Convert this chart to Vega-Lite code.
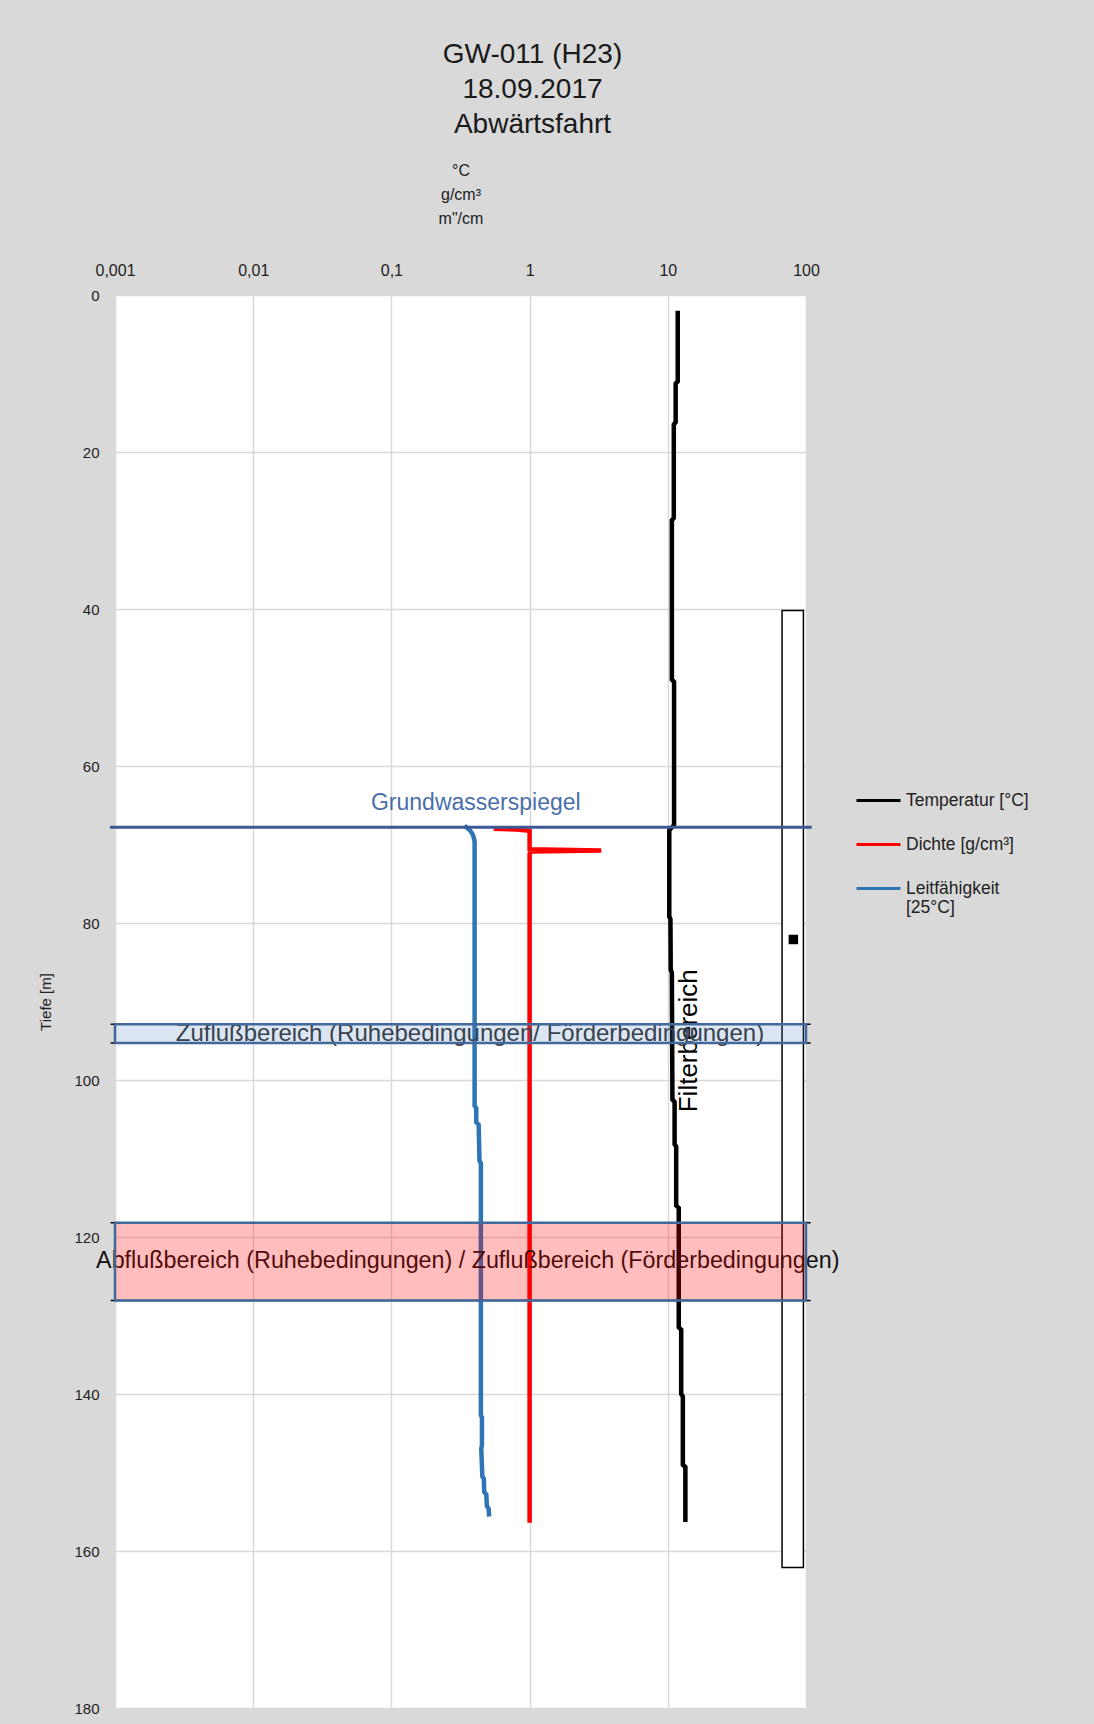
{
  "$schema": "https://vega.github.io/schema/vega-lite/v6.json",
  "width": 691,
  "height": 1413,
  "autosize": {"type": "none"},
  "padding": {"left": 115, "top": 295, "right": 288, "bottom": 16},
  "background": "#d9d9d9",
  "config": {
    "font": "Liberation Sans",
    "view": {"fill": "white", "stroke": null}
  },
  "title": {
    "text": ["GW-011 (H23)", "18.09.2017", "Abwärtsfahrt"],
    "fontSize": 28,
    "fontWeight": "normal",
    "color": "#1a1a1a",
    "anchor": "middle",
    "dx": 72,
    "offset": 23,
    "lineHeight": 35
  },
  "datasets": {
    "profiles": [
      {"series": "Temperatur [°C]", "depth": 2.0, "value": 11.8},
      {"series": "Temperatur [°C]", "depth": 11.0, "value": 11.8},
      {"series": "Temperatur [°C]", "depth": 11.3, "value": 11.4},
      {"series": "Temperatur [°C]", "depth": 16.2, "value": 11.4},
      {"series": "Temperatur [°C]", "depth": 16.5, "value": 11.05},
      {"series": "Temperatur [°C]", "depth": 28.4, "value": 11.05},
      {"series": "Temperatur [°C]", "depth": 28.7, "value": 10.7},
      {"series": "Temperatur [°C]", "depth": 49.0, "value": 10.7},
      {"series": "Temperatur [°C]", "depth": 49.3, "value": 11.1},
      {"series": "Temperatur [°C]", "depth": 67.5, "value": 11.1},
      {"series": "Temperatur [°C]", "depth": 68.2, "value": 10.25},
      {"series": "Temperatur [°C]", "depth": 79.2, "value": 10.25},
      {"series": "Temperatur [°C]", "depth": 79.5, "value": 10.45},
      {"series": "Temperatur [°C]", "depth": 86.0, "value": 10.5},
      {"series": "Temperatur [°C]", "depth": 86.3, "value": 10.7},
      {"series": "Temperatur [°C]", "depth": 102.5, "value": 10.8},
      {"series": "Temperatur [°C]", "depth": 102.8, "value": 11.2},
      {"series": "Temperatur [°C]", "depth": 108.2, "value": 11.2},
      {"series": "Temperatur [°C]", "depth": 108.5, "value": 11.5},
      {"series": "Temperatur [°C]", "depth": 116.0, "value": 11.5},
      {"series": "Temperatur [°C]", "depth": 116.3, "value": 12.0},
      {"series": "Temperatur [°C]", "depth": 131.5, "value": 12.0},
      {"series": "Temperatur [°C]", "depth": 131.8, "value": 12.5},
      {"series": "Temperatur [°C]", "depth": 140.0, "value": 12.5},
      {"series": "Temperatur [°C]", "depth": 140.3, "value": 12.85},
      {"series": "Temperatur [°C]", "depth": 149.0, "value": 12.85},
      {"series": "Temperatur [°C]", "depth": 149.3, "value": 13.4},
      {"series": "Temperatur [°C]", "depth": 156.3, "value": 13.4},
      {"series": "Dichte [g/cm³]", "depth": 68.0, "value": 0.55},
      {"series": "Dichte [g/cm³]", "depth": 68.1, "value": 0.8},
      {"series": "Dichte [g/cm³]", "depth": 68.25, "value": 1.0},
      {"series": "Dichte [g/cm³]", "depth": 70.6, "value": 1.0},
      {"series": "Dichte [g/cm³]", "depth": 70.75, "value": 3.3},
      {"series": "Dichte [g/cm³]", "depth": 70.9, "value": 1.02},
      {"series": "Dichte [g/cm³]", "depth": 71.2, "value": 1.0},
      {"series": "Dichte [g/cm³]", "depth": 156.4, "value": 1.0},
      {"series": "Leitfähigkeit [25°C]", "depth": 67.6, "value": 0.338},
      {"series": "Leitfähigkeit [25°C]", "depth": 68.2, "value": 0.37},
      {"series": "Leitfähigkeit [25°C]", "depth": 68.8, "value": 0.39},
      {"series": "Leitfähigkeit [25°C]", "depth": 69.6, "value": 0.4},
      {"series": "Leitfähigkeit [25°C]", "depth": 103.3, "value": 0.4},
      {"series": "Leitfähigkeit [25°C]", "depth": 103.6, "value": 0.411},
      {"series": "Leitfähigkeit [25°C]", "depth": 105.4, "value": 0.411},
      {"series": "Leitfähigkeit [25°C]", "depth": 105.7, "value": 0.428},
      {"series": "Leitfähigkeit [25°C]", "depth": 110.3, "value": 0.434},
      {"series": "Leitfähigkeit [25°C]", "depth": 110.6, "value": 0.444},
      {"series": "Leitfähigkeit [25°C]", "depth": 142.7, "value": 0.444},
      {"series": "Leitfähigkeit [25°C]", "depth": 143.0, "value": 0.452},
      {"series": "Leitfähigkeit [25°C]", "depth": 146.5, "value": 0.452},
      {"series": "Leitfähigkeit [25°C]", "depth": 147.0, "value": 0.447},
      {"series": "Leitfähigkeit [25°C]", "depth": 150.5, "value": 0.455},
      {"series": "Leitfähigkeit [25°C]", "depth": 150.8, "value": 0.466},
      {"series": "Leitfähigkeit [25°C]", "depth": 152.5, "value": 0.47},
      {"series": "Leitfähigkeit [25°C]", "depth": 152.8, "value": 0.486},
      {"series": "Leitfähigkeit [25°C]", "depth": 154.3, "value": 0.491},
      {"series": "Leitfähigkeit [25°C]", "depth": 154.6, "value": 0.505},
      {"series": "Leitfähigkeit [25°C]", "depth": 155.6, "value": 0.51}
    ],
    "bands": [
      {"kind": "Zufluss", "value": 0.001, "value2": 100, "depth": 92.9, "depth2": 95.3},
      {"kind": "Abfluss", "value": 0.001, "value2": 100, "depth": 118.2, "depth2": 128.1}
    ],
    "edges": [
      {"depth": 92.9, "value": 0.00093, "value2": 108},
      {"depth": 95.3, "value": 0.00093, "value2": 108},
      {"depth": 118.2, "value": 0.00093, "value2": 108},
      {"depth": 128.1, "value": 0.00093, "value2": 108}
    ],
    "water": [
      {"depth": 67.8, "value": 0.00092, "value2": 110}
    ]
  },
  "encoding": {
    "x": {
      "field": "value",
      "type": "quantitative",
      "scale": {"type": "log", "domain": [0.001, 100], "nice": false},
      "axis": {
        "orient": "top",
        "values": [0.001, 0.01, 0.1, 1, 10, 100],
        "labelExpr": "datum.value >= 1 ? format(datum.value, 'd') : replace(toString(datum.value), '.', ',')",
        "labelFontSize": 16,
        "labelColor": "#222222",
        "labelPadding": 17,
        "labelFlush": false,
        "ticks": false,
        "domain": false,
        "grid": true,
        "gridColor": "#d9d9d9",
        "gridWidth": 1.5,
        "title": ["°C", "g/cm³", "m\"/cm"],
        "titleFontSize": 16,
        "titleFontWeight": "normal",
        "titleColor": "#222222",
        "titleLineHeight": 24,
        "titlePadding": 36
      }
    },
    "y": {
      "field": "depth",
      "type": "quantitative",
      "scale": {"domain": [0, 180], "reverse": true, "nice": false},
      "axis": {
        "values": [0, 20, 40, 60, 80, 100, 120, 140, 160, 180],
        "labelFontSize": 15,
        "labelColor": "#222222",
        "labelPadding": 16,
        "ticks": false,
        "domain": false,
        "grid": true,
        "gridColor": "#d9d9d9",
        "gridWidth": 1.5,
        "title": "Tiefe [m]",
        "titleFontSize": 15,
        "titleFontWeight": "normal",
        "titleColor": "#222222",
        "titlePadding": 20
      }
    }
  },
  "layer": [
    {
      "data": {"values": [{"value": 67.1, "value2": 95.8, "depth": 40.2, "depth2": 162.1}]},
      "mark": {"type": "rect", "fill": "white", "stroke": "black", "strokeWidth": 1.5},
      "encoding": {"x2": {"field": "value2"}, "y2": {"field": "depth2"}}
    },
    {
      "data": {"values": [{"value": 81, "depth": 82.1}]},
      "mark": {"type": "point", "shape": "square", "filled": true, "color": "black", "size": 90, "opacity": 1}
    },
    {
      "data": {"name": "profiles"},
      "mark": {"type": "line", "strokeWidth": 4.5},
      "encoding": {
        "color": {
          "field": "series",
          "type": "nominal",
          "scale": {
            "domain": ["Temperatur [°C]", "Dichte [g/cm³]", "Leitfähigkeit [25°C]"],
            "range": ["#000000", "#ff0000", "#2e75b6"]
          },
          "legend": {
            "title": null,
            "orient": "none",
            "legendX": 740,
            "legendY": 482,
            "symbolType": "stroke",
            "symbolSize": 1936,
            "symbolStrokeWidth": 3,
            "labelFontSize": 17.5,
            "labelColor": "#222222",
            "labelOffset": 4,
            "labelLimit": 300,
            "rowPadding": 12,
            "labelExpr": "datum.label == 'Leitfähigkeit [25°C]' ? ['Leitfähigkeit', '[25°C]'] : datum.label"
          }
        },
        "order": {"field": "depth", "type": "quantitative"}
      }
    },
    {
      "data": {"name": "edges"},
      "mark": {"type": "rule", "color": "black", "strokeWidth": 1.5},
      "encoding": {"x2": {"field": "value2"}}
    },
    {
      "data": {"name": "water"},
      "mark": {"type": "rule", "color": "#3b5a94", "strokeWidth": 3},
      "encoding": {"x2": {"field": "value2"}}
    },
    {
      "data": {"values": [{"label": "Grundwasserspiegel", "value": 0.408, "depth": 64.7}]},
      "mark": {"type": "text", "fontSize": 23, "color": "#4a6eab", "align": "center", "baseline": "middle"},
      "encoding": {"text": {"field": "label"}}
    },
    {
      "data": {"values": [{"label": "Filterbereich", "value": 14.3, "depth": 95.0}]},
      "mark": {"type": "text", "fontSize": 26, "color": "#000000", "angle": 270, "align": "center", "baseline": "middle"},
      "encoding": {"text": {"field": "label"}}
    },
    {
      "data": {"values": [{"label": "Zuflußbereich (Ruhebedingungen/ Förderbedingungen)", "value": 0.37, "depth": 94.1}]},
      "mark": {"type": "text", "fontSize": 24, "color": "#333333", "align": "center", "baseline": "middle"},
      "encoding": {"text": {"field": "label"}}
    },
    {
      "data": {"values": [{"label": "Abflußbereich (Ruhebedingungen) / Zuflußbereich (Förderbedingungen)", "value": 0.357, "depth": 123.1}]},
      "mark": {"type": "text", "fontSize": 23.3, "color": "#111111", "align": "center", "baseline": "middle"},
      "encoding": {"text": {"field": "label"}}
    },
    {
      "data": {"name": "bands"},
      "transform": [{"filter": "datum.kind == 'Zufluss'"}],
      "mark": {"type": "rect", "fill": "#4f81bd", "fillOpacity": 0.2, "stroke": "#41699c", "strokeWidth": 2.5},
      "encoding": {"x2": {"field": "value2"}, "y2": {"field": "depth2"}}
    },
    {
      "data": {"name": "bands"},
      "transform": [{"filter": "datum.kind == 'Abfluss'"}],
      "mark": {"type": "rect", "fill": "#ff0000", "fillOpacity": 0.26, "stroke": "#41699c", "strokeWidth": 2.5},
      "encoding": {"x2": {"field": "value2"}, "y2": {"field": "depth2"}}
    }
  ]
}
